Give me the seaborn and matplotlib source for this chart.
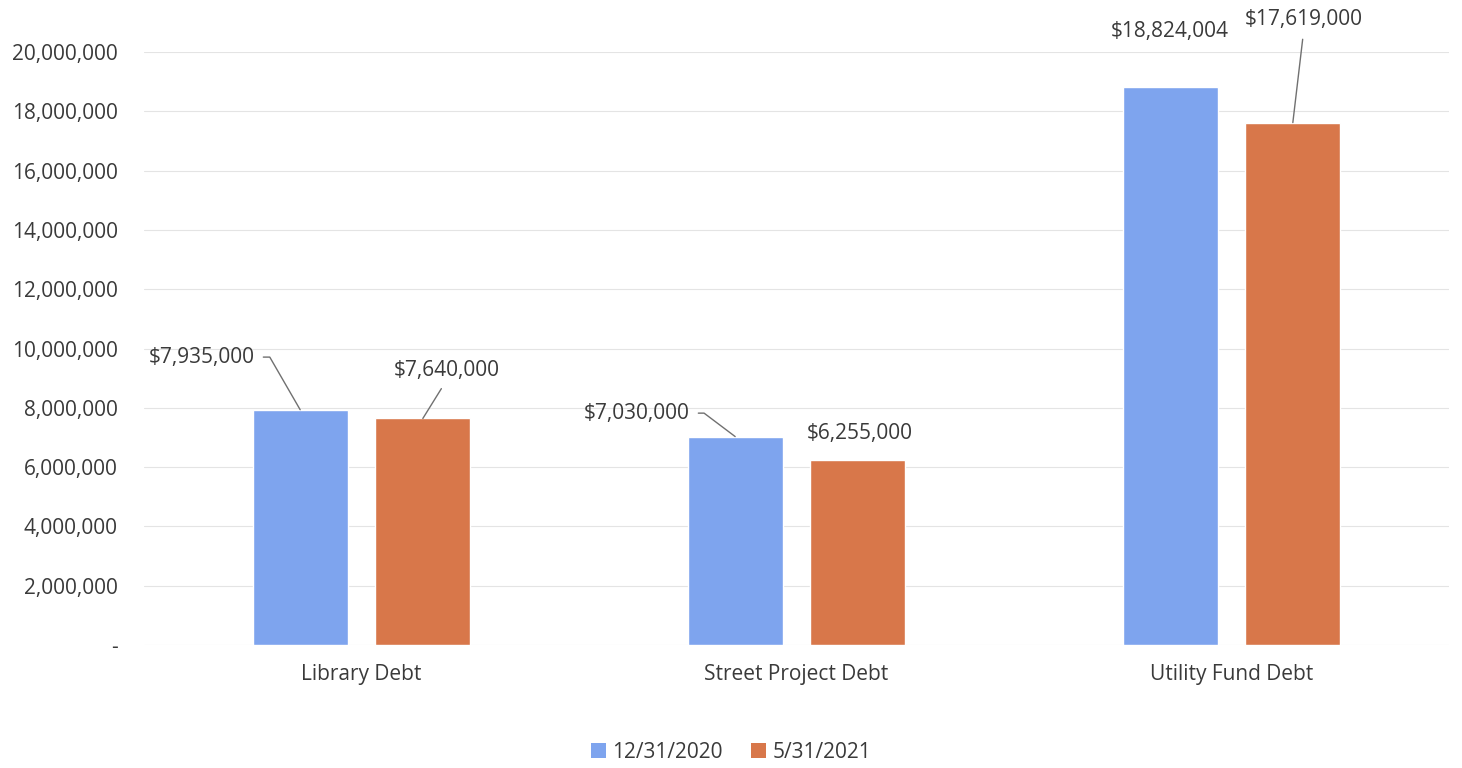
import matplotlib.pyplot as plt
import matplotlib.ticker as mticker
from matplotlib.patches import Patch
import pandas as pd
import seaborn as sns

categories = ['Library Debt', 'Street Project Debt', 'Utility Fund Debt']
dates = ['12/31/2020', '5/31/2021']
debt_2020 = [7935000, 7030000, 18824004]
debt_2021 = [7640000, 6255000, 17619000]
colors = ['#7ea4ee', '#d8774a']
text_color = '#3a3a3a'
fs = 15

df = pd.DataFrame({
    'category': categories * 2,
    'date': [dates[0]] * 3 + [dates[1]] * 3,
    'debt': debt_2020 + debt_2021,
})

sns.set_style('white')
plt.rcParams['font.family'] = ['Open Sans', 'DejaVu Sans']

fig = plt.figure(figsize=(14.62, 7.68), dpi=100)
ax = fig.add_axes([144 / 1462, 1 - 645 / 768, 1305 / 1462, (645 - 52) / 768])

sns.barplot(data=df, x='category', y='debt', hue='date', hue_order=dates,
            palette=colors, width=0.563, gap=0.226, saturation=1,
            legend=False, ax=ax)

ax.set_ylim(0, 20000000)
ax.set_xlim(-0.5, 2.5)
ax.yaxis.set_major_locator(mticker.MultipleLocator(2000000))
ax.yaxis.set_major_formatter(
    mticker.FuncFormatter(lambda v, p: '-' if v == 0 else '{:,.0f}'.format(v)))
ax.grid(axis='y', color='#e4e4e4', linewidth=0.8)
ax.set_axisbelow(True)
for s in ax.spines.values():
    s.set_visible(False)
ax.tick_params(axis='y', length=0, pad=19, labelsize=fs, labelcolor=text_color)
ax.tick_params(axis='x', length=0, pad=14, labelsize=fs, labelcolor=text_color)
ax.set_xlabel('')
ax.set_ylabel('')

# data labels, with leader lines where the label was moved off the bar
off = 0.141
line = dict(arrowstyle='-', color='#707070', lw=1, shrinkA=4, shrinkB=0)
lab = dict(fontsize=fs, color=text_color, annotation_clip=False)

ax.annotate('${:,}'.format(debt_2020[0]), xy=(0 - off, debt_2020[0]),
            xytext=(-0.246, 9710000), ha='right', va='center',
            arrowprops=dict(line, relpos=(1, 0.5),
                            connectionstyle='angle,angleA=0,angleB=120,rad=0'),
            **lab)
ax.annotate('${:,}'.format(debt_2021[0]), xy=(0 + off, debt_2021[0]),
            xytext=(0.195, 9270000), ha='center', va='center',
            arrowprops=dict(line, relpos=(0.5, 0)), **lab)
ax.annotate('${:,}'.format(debt_2020[1]), xy=(1 - off, debt_2020[1]),
            xytext=(0.754, 7820000), ha='right', va='center',
            arrowprops=dict(line, relpos=(1, 0.5),
                            connectionstyle='angle,angleA=0,angleB=143,rad=0'),
            **lab)
ax.annotate('${:,}'.format(debt_2021[1]), xy=(1.145, 7150000),
            ha='center', va='center', **lab)
ax.annotate('${:,}'.format(debt_2020[2]), xy=(2 - off, 20700000),
            ha='center', va='center', **lab)
ax.annotate('${:,}'.format(debt_2021[2]), xy=(2 + off, debt_2021[2]),
            xytext=(2.166, 21080000), ha='center', va='center',
            arrowprops=dict(line, relpos=(0.5, 0)), **lab)

handles = [Patch(facecolor=c, edgecolor='none') for c in colors]
fig.legend(handles, dates, loc='center', bbox_to_anchor=(0.5, 1 - 752 / 768),
           ncol=2, frameon=False, fontsize=fs, labelcolor=text_color,
           handlelength=0.7, handleheight=0.7, handletextpad=0.3,
           columnspacing=1.4)

fig.savefig('out.png', dpi=100)
